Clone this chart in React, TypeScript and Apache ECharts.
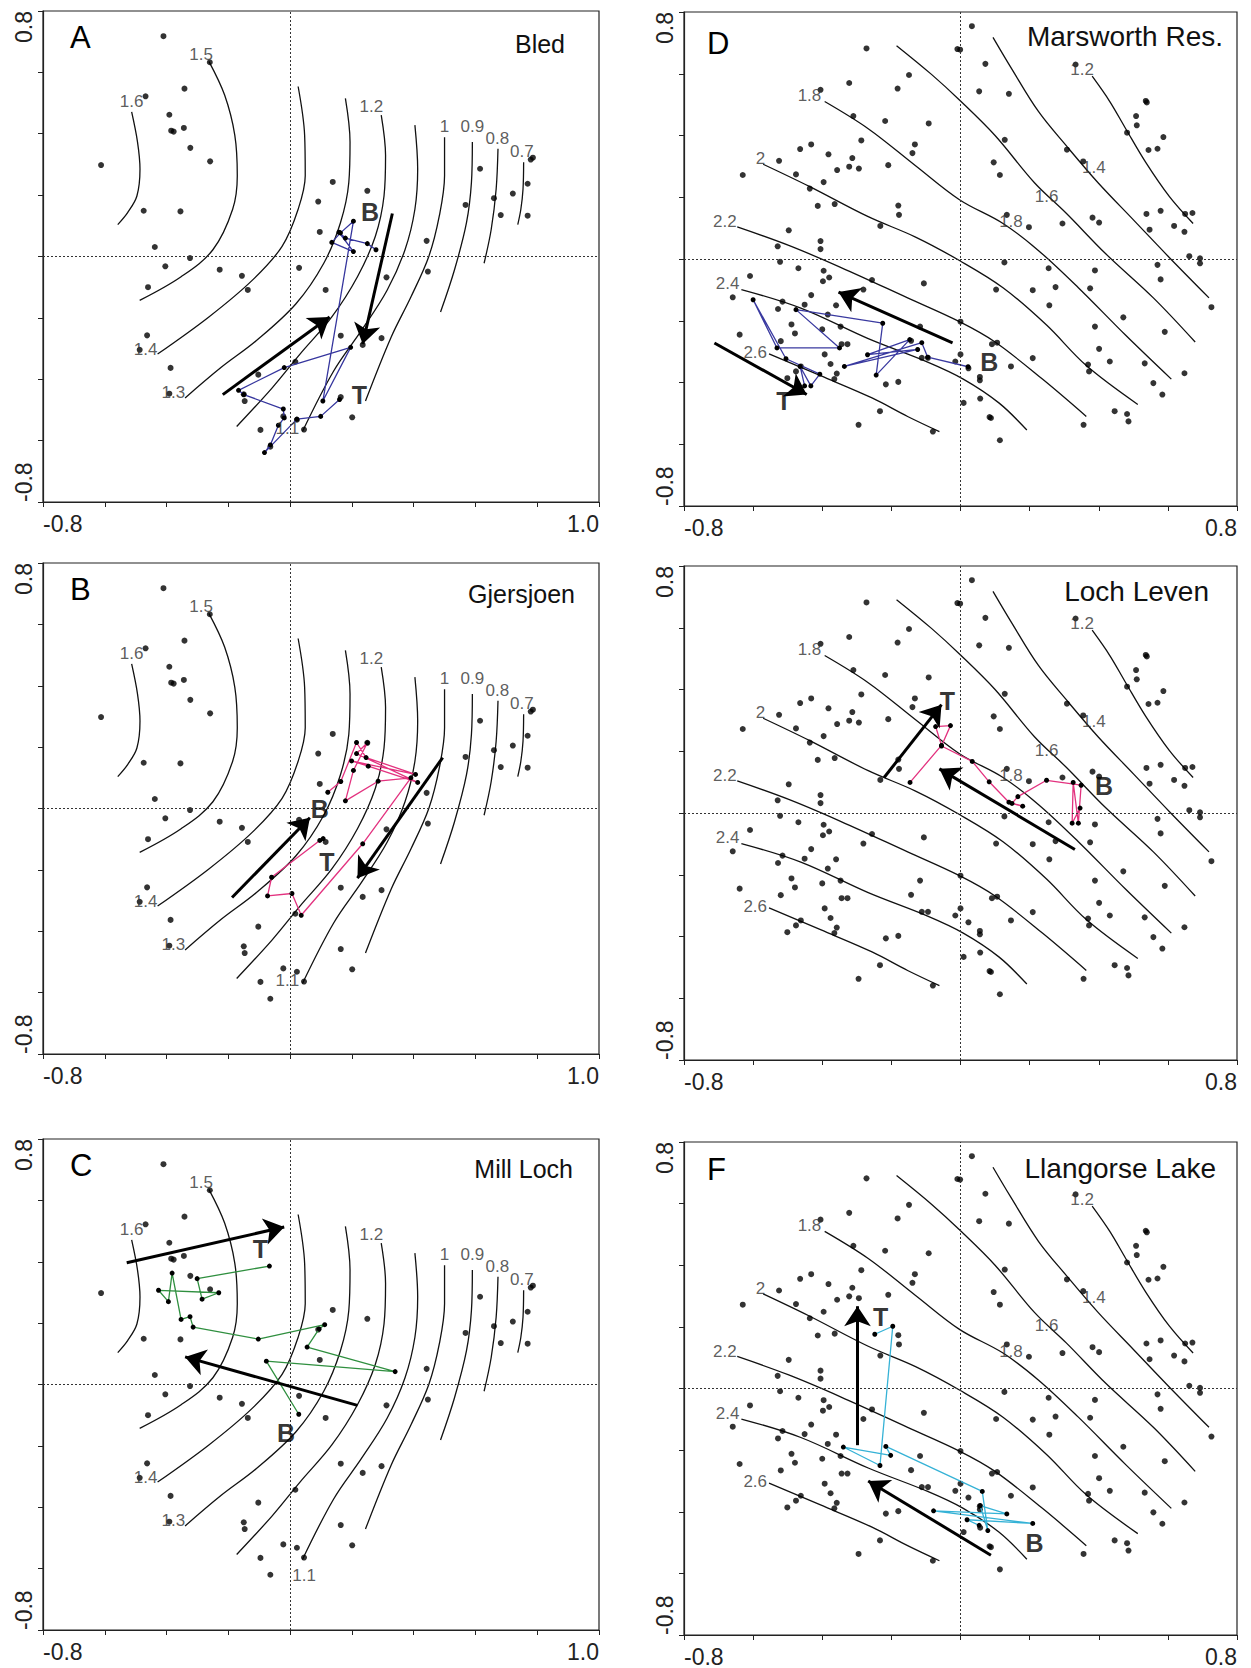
import React, { useEffect, useRef } from 'react';
import * as echarts from 'echarts';

const FONT = '"Liberation Sans", Arial, Helvetica, sans-serif';

// ---------- shared sample scores (left panels A–C) ----------
const leftDots: number[][] = [
  [-0.410, 0.718], [-0.260, 0.633], [-0.342, 0.547], [-0.468, 0.522], [-0.391, 0.462], [-0.344, 0.419],
  [-0.385, 0.410], [-0.377, 0.407], [-0.323, 0.354], [-0.259, 0.310], [-0.612, 0.298], [-0.474, 0.149],
  [-0.355, 0.147], [-0.438, 0.031], [-0.324, -0.005], [-0.404, -0.032], [-0.228, -0.043], [-0.156, -0.063],
  [-0.460, -0.100], [-0.137, -0.109], [-0.463, -0.257], [-0.487, -0.304], [-0.387, -0.363], [-0.391, -0.447],
  [-0.103, -0.385], [0.017, -0.343], [-0.150, -0.449], [-0.147, -0.471], [-0.022, -0.521], [0.022, -0.532],
  [0.045, -0.564], [-0.096, -0.565], [-0.064, -0.620], [0.164, -0.458], [0.201, -0.524], [0.164, -0.258],
  [0.235, -0.288], [0.296, -0.266], [0.312, -0.068], [0.446, -0.049], [0.442, 0.051], [0.138, 0.243],
  [0.250, 0.214], [0.091, 0.179], [0.096, 0.080], [0.568, 0.168], [0.615, 0.286], [0.660, 0.190],
  [0.682, 0.135], [0.721, 0.205], [0.769, 0.237], [0.769, 0.133], [0.786, 0.322], [0.779, 0.316],
  [0.029, -0.037], [0.115, -0.109],
];

// ---------- contours, left panels ----------
const lc16 = [[-0.513, 0.471], [-0.494, 0.373], [-0.486, 0.285], [-0.496, 0.197], [-0.526, 0.143], [-0.558, 0.104]];
const lc15 = [[-0.263, 0.636], [-0.212, 0.526], [-0.179, 0.395], [-0.171, 0.263], [-0.186, 0.154], [-0.25, 0.022], [-0.353, -0.066], [-0.487, -0.143]];
const lc14 = [[0.026, 0.554], [0.047, 0.395], [0.049, 0.263], [0.026, 0.154], [-0.026, 0.033], [-0.122, -0.077], [-0.263, -0.197], [-0.429, -0.318]];
const lc13 = [[0.179, 0.515], [0.194, 0.373], [0.190, 0.241], [0.163, 0.110], [0.109, -0.022], [0.019, -0.154], [-0.109, -0.274], [-0.224, -0.362], [-0.340, -0.461]];
const lc12 = [[0.295, 0.461], [0.309, 0.329], [0.304, 0.197], [0.276, 0.066], [0.218, -0.066], [0.135, -0.197], [0.032, -0.318], [-0.058, -0.428], [-0.173, -0.554]];
const lc11 = [[0.404, 0.428], [0.413, 0.285], [0.404, 0.154], [0.372, 0.022], [0.314, -0.110], [0.231, -0.241], [0.141, -0.373], [0.040, -0.570]];
const lc10 = [[0.5, 0.389], [0.5, 0.263], [0.483, 0.132], [0.449, 0.0], [0.391, -0.132], [0.327, -0.263], [0.244, -0.471]];
const lc09 = [[0.590, 0.373], [0.587, 0.241], [0.571, 0.110], [0.532, -0.044], [0.487, -0.181]];
const lc08 = [[0.673, 0.351], [0.667, 0.219], [0.651, 0.088], [0.628, -0.022]];
const lc07 = [[0.756, 0.307], [0.754, 0.219], [0.747, 0.154], [0.737, 0.104]];
const leftContours = [lc16, lc15, lc14, lc13, lc12, lc11, lc10, lc09, lc08, lc07];

const leftLabelText = ['1.6', '1.5', '1.4', '1.3', '1.2', '1.1', '1', '0.9', '0.8', '0.7'];
const leftLabelPos = [[-0.513, 0.504], [-0.288, 0.658], [-0.468, -0.304], [-0.378, -0.444], [0.263, 0.488], [-0.009, -0.559], [0.5, 0.422], [0.590, 0.422], [0.671, 0.384], [0.75, 0.342]];
const leftLabelPosC = [[-0.513, 0.504], [-0.288, 0.658], [-0.468, -0.304], [-0.378, -0.444], [0.263, 0.488], [0.045, -0.622], [0.5, 0.422], [0.590, 0.422], [0.671, 0.384], [0.75, 0.342]];

// ---------- shared sample scores (right panels D–F) ----------
const rightDots: number[][] = [
  [0.033, 0.754], [-0.272, 0.682], [-0.009, 0.680], [-0.001, 0.678], [-0.149, 0.596], [0.072, 0.632], [-0.322, 0.570],
  [-0.182, 0.552], [0.054, 0.543], [0.140, 0.535], [-0.405, 0.548], [0.333, 0.630], [0.536, 0.512], [0.539, 0.507],
  [-0.310, 0.463], [-0.218, 0.447], [-0.092, 0.439], [0.508, 0.463], [0.510, 0.433], [0.482, 0.409], [0.587, 0.395],
  [0.544, 0.353], [0.570, 0.357], [-0.287, 0.384], [-0.432, 0.371], [-0.464, 0.356], [-0.132, 0.371], [-0.139, 0.343],
  [0.128, 0.386], [0.308, 0.354], [0.355, 0.316], [-0.525, 0.318], [-0.382, 0.339], [-0.313, 0.327], [-0.322, 0.299],
  [-0.294, 0.293], [-0.357, 0.288], [-0.209, 0.304], [0.096, 0.313], [0.114, 0.272], [-0.630, 0.272], [-0.476, 0.274],
  [-0.396, 0.249], [-0.436, 0.228], [-0.413, 0.172], [-0.364, 0.178], [-0.180, 0.173], [-0.178, 0.143], [-0.232, 0.107],
  [-0.497, 0.093], [-0.529, 0.041], [-0.405, 0.058], [-0.405, 0.032], [-0.522, -0.009], [-0.609, -0.055], [-0.469, -0.030],
  [-0.396, -0.038], [-0.380, -0.060], [-0.398, -0.072], [-0.256, -0.068], [-0.281, -0.099], [-0.106, -0.079], [-0.659, -0.124],
  [-0.515, -0.138], [-0.432, -0.117], [-0.451, -0.148], [-0.528, -0.162], [-0.360, -0.150], [-0.384, -0.180], [-0.639, -0.245],
  [-0.489, -0.212], [-0.479, -0.241], [-0.400, -0.228], [-0.347, -0.219], [-0.520, -0.266], [-0.344, -0.276], [-0.327, -0.276],
  [-0.393, -0.309], [-0.376, -0.340], [-0.358, -0.371], [-0.462, -0.348], [-0.476, -0.364], [-0.501, -0.386], [-0.365, -0.389],
  [-0.216, -0.406], [-0.180, -0.398], [-0.233, -0.493], [-0.295, -0.537], [-0.080, -0.559], [-0.117, -0.219], [-0.143, -0.265],
  [-0.112, -0.320], [-0.094, -0.320], [-0.015, -0.332], [0.0, -0.309], [0.0, -0.203], [0.023, -0.354], [0.056, -0.382],
  [0.056, -0.393], [0.057, -0.452], [0.009, -0.466], [0.084, -0.512], [0.088, -0.515], [0.114, -0.587], [0.091, -0.276],
  [0.106, -0.271], [0.146, -0.348], [0.209, -0.321], [0.103, -0.099], [0.209, -0.101], [0.257, -0.150], [0.255, -0.030],
  [0.275, -0.091], [0.127, -0.011], [0.134, 0.143], [0.198, 0.103], [0.295, 0.115], [0.382, 0.134], [0.401, 0.118],
  [0.375, -0.095], [0.389, -0.037], [0.389, -0.219], [0.401, -0.291], [0.369, -0.342], [0.372, -0.364], [0.432, -0.332],
  [0.471, -0.189], [0.356, -0.537], [0.446, -0.493], [0.482, -0.502], [0.486, -0.526], [0.533, -0.338], [0.558, -0.402],
  [0.584, -0.439], [0.591, -0.236], [0.579, -0.066], [0.570, -0.019], [0.648, -0.370], [0.726, -0.156], [0.662, 0.009],
  [0.693, 0.002], [0.693, -0.014], [0.538, 0.146], [0.579, 0.156], [0.547, 0.095], [0.618, 0.107], [0.648, 0.088],
  [0.650, 0.146], [0.671, 0.149],
];

// ---------- contours, right panels ----------
const rc12 = [[0.381, 0.592], [0.432, 0.510], [0.478, 0.422], [0.536, 0.313], [0.604, 0.203], [0.673, 0.115]];
const rc14 = [[0.094, 0.718], [0.146, 0.620], [0.226, 0.477], [0.306, 0.367], [0.398, 0.247], [0.501, 0.126], [0.604, 0.005], [0.719, -0.126]];
const rc16 = [[-0.185, 0.691], [-0.084, 0.598], [-0.003, 0.515], [0.1, 0.400], [0.214, 0.247], [0.306, 0.148], [0.421, 0.016], [0.558, -0.126], [0.679, -0.269]];
const rc18 = [[-0.393, 0.510], [-0.267, 0.422], [-0.130, 0.302], [-0.003, 0.192], [0.123, 0.115], [0.226, 0.027], [0.341, -0.093], [0.478, -0.247], [0.610, -0.389]];
const rc20 = [[-0.571, 0.307], [-0.439, 0.236], [-0.267, 0.137], [-0.130, 0.071], [-0.003, -0.005], [0.123, -0.093], [0.249, -0.214], [0.364, -0.345], [0.513, -0.471]];
const rc22 = [[-0.646, 0.104], [-0.497, 0.044], [-0.347, -0.027], [-0.153, -0.126], [-0.003, -0.203], [0.1, -0.269], [0.237, -0.389], [0.364, -0.510]];
const rc24 = [[-0.634, -0.099], [-0.462, -0.159], [-0.267, -0.258], [-0.095, -0.334], [0.008, -0.389], [0.111, -0.466], [0.192, -0.554]];
const rc26 = [[-0.554, -0.307], [-0.405, -0.378], [-0.256, -0.450], [-0.153, -0.510], [-0.061, -0.559]];
const rightContours = [rc12, rc14, rc16, rc18, rc20, rc22, rc24, rc26];

const rightLabelText = ['1.2', '1.4', '1.6', '1.8', '1.8', '2', '2.2', '2.4', '2.6'];
const rightLabelPos = [[0.352, 0.614], [0.386, 0.296], [0.249, 0.203], [-0.437, 0.528], [0.146, 0.121], [-0.579, 0.326], [-0.682, 0.121], [-0.674, -0.080], [-0.594, -0.302]];

// ---------- core trajectories ----------
const trajBled = [[0.278, 0.022], [0.250, 0.042], [0.179, 0.060], [0.158, 0.079], [0.205, 0.016], [0.135, 0.046], [0.163, 0.077], [0.205, 0.115], [0.106, -0.471], [0.196, -0.296], [-0.019, -0.362], [-0.167, -0.436], [-0.150, -0.450], [-0.022, -0.497], [-0.019, -0.526], [-0.038, -0.550], [-0.064, -0.614], [-0.083, -0.639], [0.022, -0.530], [0.099, -0.521], [0.160, -0.466]];
const trajGjersjoen = [[0.122, 0.053], [0.164, 0.088], [0.215, 0.215], [0.246, 0.166], [0.406, 0.111], [0.199, 0.155], [0.253, 0.138], [0.413, 0.085], [0.215, 0.179], [0.250, 0.214], [0.205, 0.124], [0.179, 0.025], [0.285, 0.089], [0.391, 0.100], [0.235, -0.115], [0.036, -0.348], [0.006, -0.277], [-0.073, -0.285], [-0.060, -0.224], [0.096, -0.104], [0.107, -0.098]];
const trajMillLoch = [[0.028, -0.097], [-0.077, 0.076], [0.340, 0.042], [0.055, 0.122], [0.094, 0.181], [0.112, 0.195], [-0.103, 0.148], [-0.314, 0.187], [-0.324, 0.221], [-0.353, 0.212], [-0.382, 0.363], [-0.394, 0.270], [-0.426, 0.307], [-0.231, 0.299], [-0.285, 0.278], [-0.301, 0.345], [-0.067, 0.386]];
const trajMarsworth = [[0.022, -0.349], [-0.095, -0.318], [-0.112, -0.271], [-0.336, -0.348], [-0.124, -0.293], [-0.269, -0.310], [-0.147, -0.261], [-0.244, -0.376], [-0.225, -0.208], [-0.476, -0.164], [-0.350, -0.288], [-0.531, -0.288], [-0.600, -0.132], [-0.505, -0.323], [-0.407, -0.373], [-0.433, -0.411], [-0.464, -0.348], [-0.451, -0.411]];
const trajLochLeven = [[0.346, 0.016], [0.323, -0.033], [0.326, 0.099], [0.341, -0.033], [0.349, 0.090], [0.249, 0.106], [0.166, 0.053], [0.149, 0.031], [0.180, 0.022], [0.140, 0.035], [0.083, 0.101], [0.034, 0.167], [-0.055, 0.217], [-0.029, 0.283], [-0.072, 0.280], [-0.055, 0.219], [-0.146, 0.099]];
const trajLlangorse = [[-0.248, 0.176], [-0.196, 0.202], [-0.233, -0.250], [-0.339, -0.190], [-0.202, -0.217], [-0.216, -0.188], [0.063, -0.334], [0.079, -0.461], [0.057, -0.380], [0.134, -0.407], [-0.078, -0.397], [0.209, -0.438], [0.019, -0.426], [0.054, -0.444]];

// ---------- arrows [from, to] ----------
const arrowsBled = [[[-0.218, -0.450], [0.128, -0.197]], [[0.331, 0.140], [0.235, -0.285]]];
const arrowsGjersjoen = [[[-0.188, -0.290], [0.064, -0.030]], [[0.494, 0.166], [0.218, -0.227]]];
const arrowsMillLoch = [[[-0.529, 0.397], [-0.019, 0.513]], [[0.218, -0.068], [-0.340, 0.090]]];
const arrowsMarsworth = [[[-0.712, -0.272], [-0.445, -0.439]], [[-0.023, -0.272], [-0.353, -0.107]]];
const arrowsLochLeven = [[[-0.221, 0.115], [-0.055, 0.351]], [[0.331, -0.118], [-0.061, 0.143]]];
const arrowsLlangorse = [[[-0.298, -0.184], [-0.298, 0.267]], [[0.088, -0.541], [-0.267, -0.300]]];

// ---------- B / T (bottom / top) marks ----------
const btBled = [[0.259, 0.145, 'B'], [0.224, -0.450, 'T']];
const btGjersjoen = [[0.096, -0.002, 'B'], [0.119, -0.173, 'T']];
const btMillLoch = [[-0.013, -0.159, 'B'], [-0.096, 0.440, 'T']];
const btMarsworth = [[0.083, -0.334, 'B'], [-0.511, -0.461, 'T']];
const btLochLeven = [[0.415, 0.088, 'B'], [-0.038, 0.362, 'T']];
const btLlangorse = [[0.214, -0.501, 'B'], [-0.231, 0.233, 'T']];

const panelLetters = ['A', 'B', 'C', 'D', '', 'F'];
const lakeNames = ['Bled', 'Gjersjoen', 'Mill Loch', 'Marsworth Res.', 'Loch Leven', 'Llangorse Lake'];
const xMin = -0.8;
const xMaxLeft = 1.0;
const xMaxRight = 0.8;
const yMin = -0.8;
const yMax = 0.8;

// layout (pixels)
const grids = [
  { left: 43, top: 11, width: 556, height: 491 },
  { left: 43, top: 563, width: 556, height: 491 },
  { left: 43, top: 1139, width: 556, height: 491 },
  { left: 684, top: 12, width: 553, height: 494 },
  { left: 684, top: 566, width: 553, height: 494 },
  { left: 684, top: 1142, width: 553, height: 494 },
];
const letterOffsetY = [26, 26, 26, 31, 31, 27];
const nameOffset = [[34, 33], [24, 31], [26, 30], [14, 24], [28, 25], [21, 26]];

const trajColors = ['#36369e', '#e3327f', '#2f8f3f', '#3a3aa0', '#e3327f', '#35b2d6'];

const App: React.FC = () => {
  const ref = useRef<HTMLDivElement>(null);

  useEffect(() => {
    if (!ref.current) return;
    const chart = echarts.init(ref.current, undefined, { renderer: 'svg' });

    const panels = [
      { side: 'L', traj: trajBled, arrows: arrowsBled, bt: btBled },
      { side: 'L', traj: trajGjersjoen, arrows: arrowsGjersjoen, bt: btGjersjoen },
      { side: 'L', traj: trajMillLoch, arrows: arrowsMillLoch, bt: btMillLoch },
      { side: 'R', traj: trajMarsworth, arrows: arrowsMarsworth, bt: btMarsworth },
      { side: 'R', traj: trajLochLeven, arrows: arrowsLochLeven, bt: btLochLeven },
      { side: 'R', traj: trajLlangorse, arrows: arrowsLlangorse, bt: btLlangorse },
    ];

    const xAxes: any[] = [];
    const yAxes: any[] = [];
    const series: any[] = [];
    const graphics: any[] = [];

    const near = (a: number, b: number) => Math.abs(a - b) < 1e-6;

    panels.forEach((p, i) => {
      const left = p.side === 'L';
      const xMax = left ? xMaxLeft : xMaxRight;
      xAxes.push({
        gridIndex: i, type: 'value', min: xMin, max: xMax, interval: 0.2,
        axisLine: { show: true, onZero: false, lineStyle: { color: '#222', width: 1.2 } },
        axisTick: { show: true, inside: false, length: 5, lineStyle: { color: '#222' } },
        splitLine: { show: false },
        axisLabel: {
          show: true, fontSize: 23, fontFamily: FONT, color: '#222', margin: 10,
          showMinLabel: true, showMaxLabel: true,
          alignMinLabel: 'left', alignMaxLabel: 'right',
          formatter: (v: number) => (near(v, xMin) || near(v, xMax) ? v.toFixed(1) : ''),
        },
      });
      yAxes.push({
        gridIndex: i, type: 'value', min: yMin, max: yMax, interval: 0.2,
        axisLine: { show: true, onZero: false, lineStyle: { color: '#222', width: 1.2 } },
        axisTick: { show: true, inside: false, length: 5, lineStyle: { color: '#222' } },
        splitLine: { show: false },
        axisLabel: {
          show: true, fontSize: 23, fontFamily: FONT, color: '#222', margin: 8, rotate: 90,
          showMinLabel: true, showMaxLabel: true,
          alignMinLabel: 'left', alignMaxLabel: 'right',
          formatter: (v: number) => (near(v, yMin) || near(v, yMax) ? v.toFixed(1) : ''),
        },
      });

      const contours = left ? leftContours : rightContours;
      contours.forEach((c) => {
        series.push({
          type: 'line', xAxisIndex: i, yAxisIndex: i, data: c, smooth: 0.35, symbol: 'none',
          lineStyle: { color: '#111', width: 1.3 }, z: 2, silent: true,
        });
      });

      const labelText = left ? leftLabelText : rightLabelText;
      const labelPos = left ? (i === 2 ? leftLabelPosC : leftLabelPos) : rightLabelPos;
      series.push({
        type: 'scatter', xAxisIndex: i, yAxisIndex: i, symbolSize: 0, z: 6, silent: true,
        itemStyle: { color: '#333' },
        data: labelText.map((t, k) => ({ value: labelPos[k], name: t })),
        label: {
          show: true, position: [0, 0], align: 'center', verticalAlign: 'middle',
          formatter: '{b}', fontSize: 17, fontFamily: FONT, color: '#333',
          textBorderWidth: 0,
        },
      });

      series.push({
        type: 'scatter', xAxisIndex: i, yAxisIndex: i, data: left ? leftDots : rightDots,
        symbol: 'circle', symbolSize: 6, itemStyle: { color: '#000' }, z: 3, silent: true,
        markLine: {
          silent: true, symbol: ['none', 'none'], label: { show: false },
          lineStyle: { type: [2, 2], color: '#333', width: 1 },
          data: [{ xAxis: 0 }, { yAxis: 0 }],
        },
      });

      series.push({
        type: 'line', xAxisIndex: i, yAxisIndex: i, data: p.traj, smooth: false,
        symbol: 'circle', symbolSize: 5, showSymbol: true,
        itemStyle: { color: '#000' }, lineStyle: { color: trajColors[i], width: 1.3 }, z: 4, silent: true,
      });

      series.push({
        type: 'lines', coordinateSystem: 'cartesian2d', xAxisIndex: i, yAxisIndex: i,
        symbol: ['none', 'arrow'], symbolSize: 20, z: 5, silent: true,
        lineStyle: { color: '#000', width: 3, opacity: 1, curveness: 0 },
        data: p.arrows.map((a) => ({ coords: a })),
      });

      series.push({
        type: 'scatter', xAxisIndex: i, yAxisIndex: i, symbolSize: 0, z: 7, silent: true,
        itemStyle: { color: '#000' },
        data: p.bt.map((b) => ({ value: [b[0], b[1]], name: b[2] })),
        label: {
          show: true, position: [0, 0], align: 'center', verticalAlign: 'middle',
          formatter: '{b}', fontSize: 25, fontWeight: 'bold', fontFamily: FONT, color: '#000',
          textBorderWidth: 0,
        },
      });

      const g = grids[i];
      if (panelLetters[i]) {
        graphics.push({
          type: 'text', x: g.left + (left ? 27 : 23), y: g.top + letterOffsetY[i],
          style: { text: panelLetters[i], fontSize: 31, fontFamily: FONT, fill: '#000', align: 'left', verticalAlign: 'middle' },
        });
      }
      graphics.push({
        type: 'text', x: g.left + g.width - nameOffset[i][0], y: g.top + nameOffset[i][1],
        style: { text: lakeNames[i], fontSize: left ? 25 : 28, fontFamily: FONT, fill: '#111', align: 'right', verticalAlign: 'middle' },
      });
    });

    chart.setOption({
      animation: false,
      backgroundColor: '#fff',
      grid: grids.map((g) => ({ ...g, show: true, borderColor: '#222', borderWidth: 1.2, backgroundColor: 'transparent', containLabel: false })),
      xAxis: xAxes,
      yAxis: yAxes,
      series,
      graphic: graphics,
    });

    return () => chart.dispose();
  }, []);

  return (
    <div
      ref={ref}
      style={{ position: 'fixed', left: 0, top: 0, width: 1251, height: 1668, background: '#fff' }}
    />
  );
};

export default App;
